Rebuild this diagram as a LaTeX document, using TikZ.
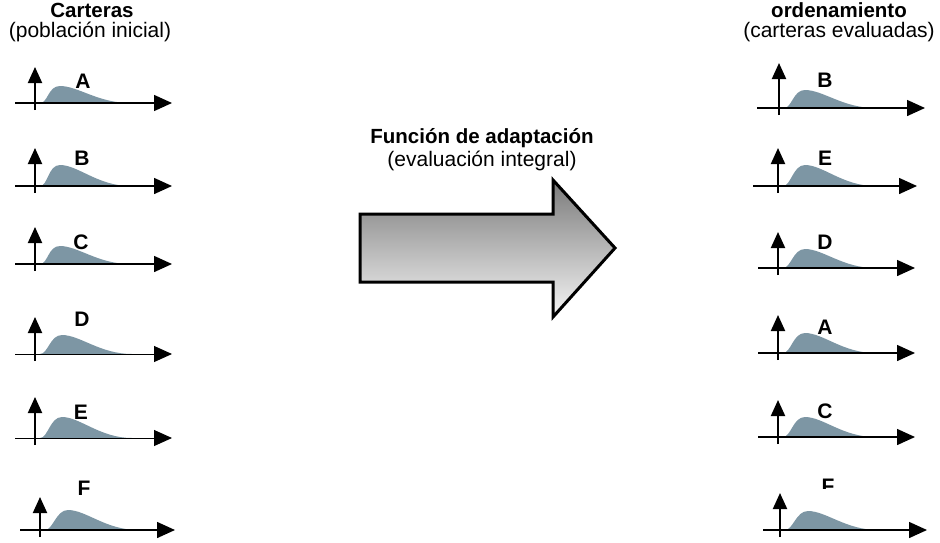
\documentclass[tikz,border=0pt]{standalone}
\usepackage{fontspec}
\setmainfont{Liberation Sans}
\usetikzlibrary{arrows.meta}
\definecolor{curvefill}{RGB}{125,150,164}
\tikzset{
 lbl/.style={font=\fontsize{21}{24}\selectfont\bfseries, inner sep=0pt},
 ttl/.style={font=\fontsize{20.5}{23}\selectfont\bfseries, anchor=base, inner sep=0pt},
 sub/.style={font=\fontsize{21}{23}\selectfont, anchor=base, inner sep=0pt},
 hax/.style={line width=1.5pt, -{Triangle[length=18pt,width=16pt]}},
 vax/.style={line width=2pt, -{Triangle[length=16pt,width=14pt]}},
 dist/.style={fill=curvefill},
 bigarrow/.style={line width=3pt, draw=black, top color=black!52, bottom color=black!4, line join=miter}
}
% #1 xL, #2 xR, #3 xv, #4 ybase, #5 ytip, #6 peak x, #7 peak y, #8 extra style of horizontal axis
\newcommand\chartpanel[8]{%
 \fill[dist] (#3+5,#4) .. controls (#3+13,#4) and (#6-12,#7) .. (#6,#7)
   .. controls (#6+18,#7) and (#6+38,#4) .. (#6+70,#4) -- cycle;
 \draw[hax,#8] (#1,#4) -- (#2,#4);
 \draw[vax] (#3,#4+7) -- (#3,#5);
}
\begin{document}
\begin{tikzpicture}[x=1pt,y=-1pt]
\useasboundingbox (0,0) rectangle (940,542);
% titles
\node[ttl] (tL) at (92,17) {Carteras};
\node[sub] (sL) at (90,37) {(población inicial)};
\node[ttl] (tC) at (482,143) {Función de adaptación};
\node[sub] (sC) at (482,166) {(evaluación integral)};
\node[ttl] (tR) at (839,17) {ordenamiento};
\node[sub] (sR) at (839,37) {(carteras evaluadas)};
% labels left
\node[lbl] (lA) at (83,81) {A};
\node[lbl] (lB) at (82,158) {B};
\node[lbl] (lC) at (81,242) {C};
\node[lbl] (lD) at (82,319) {D};
\node[lbl] (lE) at (81,412) {E};
\node[lbl] (lF) at (84,488) {F};
% labels right
\node[lbl] (rB) at (825,80) {B};
\node[lbl] (rE) at (825,158) {E};
\node[lbl] (rD) at (825,242) {D};
\node[lbl] (rA) at (825,327) {A};
\node[lbl] (rC) at (825,411) {C};
\begin{scope}
 \clip (800,470) rectangle (860,488);
 \node[lbl] (rF) at (828,486) {F};
\end{scope}
% left panels
\chartpanel{15}{172}{35}{103}{67}{60}{86}{}
\chartpanel{15}{172}{35}{186}{148}{60}{165}{}
\chartpanel{15}{172}{35}{264}{227}{60}{246}{}
\chartpanel{15}{172}{35}{354}{317}{62}{335}{line width=1pt}
\chartpanel{15}{172}{35}{438}{397}{62}{417}{line width=1pt}
\chartpanel{20}{175}{40}{530}{497}{68}{510}{}
% right panels
\chartpanel{757}{925}{779}{108}{63}{805}{90}{}
\chartpanel{753}{917}{778}{186}{148}{805}{165}{}
\chartpanel{758}{915}{778}{268}{232}{805}{249}{}
\chartpanel{758}{915}{778}{353}{315}{805}{333}{}
\chartpanel{758}{915}{778}{437}{400}{805}{417}{}
\chartpanel{763}{927}{780}{530}{493}{808}{511}{}
% big arrow
\path[bigarrow] (360,214) -- (553,214) -- (553,180) -- (615,248) -- (553,317) -- (553,282) -- (360,282) -- cycle;
\end{tikzpicture}
\end{document}
